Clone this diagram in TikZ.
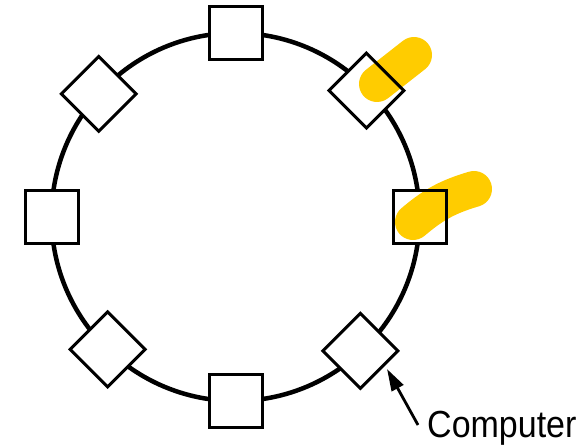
\documentclass[tikz,border=0pt]{standalone}
\usepackage{fontspec}
\setmainfont{Liberation Sans}
\usepackage{xcolor}
\usepackage{tikz}
\usetikzlibrary{positioning,calc,arrows.meta}
\definecolor{marker}{HTML}{FFCC00}

\begin{document}
\begin{tikzpicture}[x=1pt, y=1pt,
    station/.style={draw, fill=white, rectangle, line width=3pt, minimum size=53pt, inner sep=0pt},
    turned/.style={station, rotate=45},
    highlight/.style={marker, line width=36pt, line cap=round, blend mode=multiply}]
    \useasboundingbox (0,0) rectangle (588,447);
    \coordinate (ring) at (235.5,230);

    \draw [line width=4.5pt] (ring) circle (184);

    \node [station] (n) at ($(ring)+(90:184)$) {};
    \node [station] (w) at ($(ring)+(180:184)$) {};
    \node [station] (s) at ($(ring)+(270:184)$) {};
    \node [station] (e) at ($(ring)+(0:184)$) {};
    \node [turned] (ne) at ($(ring)+(44:182)$) {};
    \node [turned] (nw) at ($(ring)+(138:184)$) {};
    \node [turned] (sw) at ($(ring)+(226:184)$) {};
    \node [turned] (se) at ($(ring)+(313:183)$) {};

    \draw [highlight] (377,363) -- (414,392);
    \draw [highlight] (413,225) to[bend left=12] (474,258);

    \node [anchor=base west, inner sep=0pt, font=\fontsize{34}{40}\selectfont] (computer) at (427,10) {\scalebox{1}[1.11]{Computer}};
    \coordinate (tip) at (387,78);
    \draw [-{Triangle[length=22pt,width=13pt]}, line width=2.8pt] ([shift={(-9,12)}]computer.base west) -- (tip);
\end{tikzpicture}
\end{document}
